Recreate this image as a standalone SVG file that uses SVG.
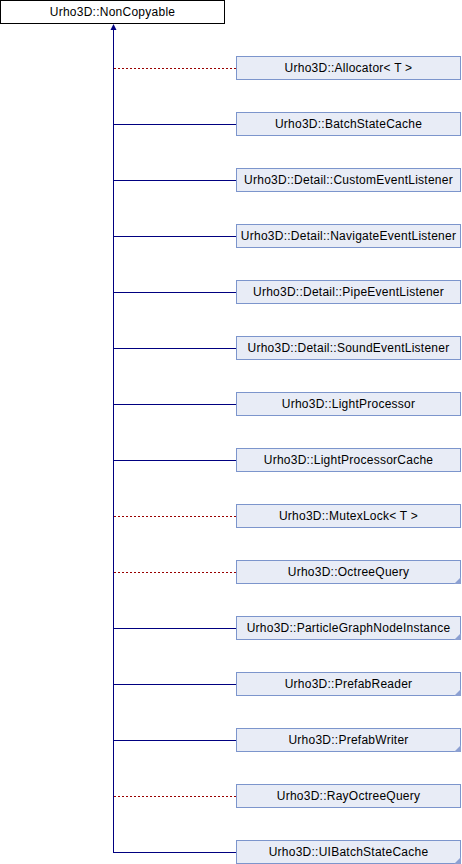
<svg xmlns="http://www.w3.org/2000/svg" width="462" height="864" viewBox="0 0 462 864">
<style>
.n rect{fill:#e8ecf6;stroke:#7c95cc;stroke-width:1}
.n text,.r text{font-family:"Liberation Sans",Arial,sans-serif;font-size:12px;letter-spacing:0.25px;fill:#000;text-anchor:middle}
.r rect{fill:#fff;stroke:#000;stroke-width:1}
.t{fill:#8ca0d2}
.pub{stroke:#000080;stroke-width:1;fill:none}
.prv{stroke:#990000;stroke-width:1;fill:none;stroke-dasharray:2,2}
</style>
<rect width="462" height="864" fill="#fff"/>
<g id="edges">
<line class="pub" x1="113.5" y1="29" x2="113.5" y2="852.5"/>
<polygon points="113.5,24 110.5,30 116.5,30" fill="#000080"/>
<line class="prv" x1="114" y1="68.5" x2="236" y2="68.5"/>
<line class="pub" x1="114" y1="124.5" x2="236" y2="124.5"/>
<line class="pub" x1="114" y1="180.5" x2="236" y2="180.5"/>
<line class="pub" x1="114" y1="236.5" x2="236" y2="236.5"/>
<line class="pub" x1="114" y1="292.5" x2="236" y2="292.5"/>
<line class="pub" x1="114" y1="348.5" x2="236" y2="348.5"/>
<line class="pub" x1="114" y1="404.5" x2="236" y2="404.5"/>
<line class="pub" x1="114" y1="460.5" x2="236" y2="460.5"/>
<line class="prv" x1="114" y1="516.5" x2="236" y2="516.5"/>
<line class="prv" x1="114" y1="572.5" x2="236" y2="572.5"/>
<line class="pub" x1="114" y1="628.5" x2="236" y2="628.5"/>
<line class="pub" x1="114" y1="684.5" x2="236" y2="684.5"/>
<line class="pub" x1="114" y1="740.5" x2="236" y2="740.5"/>
<line class="prv" x1="114" y1="796.5" x2="236" y2="796.5"/>
<line class="pub" x1="113" y1="852.5" x2="236" y2="852.5"/>
</g>
<g id="root" class="r"><rect x="0.5" y="0.5" width="224" height="23"/><text x="112.5" y="16">Urho3D::NonCopyable</text></g>
<g id="n1" class="n"><rect x="236.5" y="56.5" width="224" height="23"/><text x="348.5" y="71.5">Urho3D::Allocator&lt; T &gt;</text></g>
<g id="n2" class="n"><rect x="236.5" y="112.5" width="224" height="23"/><text x="348.5" y="127.5">Urho3D::BatchStateCache</text></g>
<g id="n3" class="n"><rect x="236.5" y="168.5" width="224" height="23"/><text x="348.5" y="183.5">Urho3D::Detail::CustomEventListener</text></g>
<g id="n4" class="n"><rect x="236.5" y="224.5" width="224" height="23"/><text x="348.5" y="239.5">Urho3D::Detail::NavigateEventListener</text></g>
<g id="n5" class="n"><rect x="236.5" y="280.5" width="224" height="23"/><text x="348.5" y="295.5">Urho3D::Detail::PipeEventListener</text></g>
<g id="n6" class="n"><rect x="236.5" y="336.5" width="224" height="23"/><text x="348.5" y="351.5">Urho3D::Detail::SoundEventListener</text></g>
<g id="n7" class="n"><rect x="236.5" y="392.5" width="224" height="23"/><text x="348.5" y="407.5">Urho3D::LightProcessor</text></g>
<g id="n8" class="n"><rect x="236.5" y="448.5" width="224" height="23"/><text x="348.5" y="463.5">Urho3D::LightProcessorCache</text></g>
<g id="n9" class="n"><rect x="236.5" y="504.5" width="224" height="23"/><text x="348.5" y="519.5">Urho3D::MutexLock&lt; T &gt;</text></g>
<g id="n10" class="n"><rect x="236.5" y="560.5" width="224" height="23"/><text x="348.5" y="575.5">Urho3D::OctreeQuery</text><polygon class="t" points="461,577 461,584 454,584"/></g>
<g id="n11" class="n"><rect x="236.5" y="616.5" width="224" height="23"/><text x="348.5" y="631.5">Urho3D::ParticleGraphNodeInstance</text><polygon class="t" points="461,633 461,640 454,640"/></g>
<g id="n12" class="n"><rect x="236.5" y="672.5" width="224" height="23"/><text x="348.5" y="687.5">Urho3D::PrefabReader</text><polygon class="t" points="461,689 461,696 454,696"/></g>
<g id="n13" class="n"><rect x="236.5" y="728.5" width="224" height="23"/><text x="348.5" y="743.5">Urho3D::PrefabWriter</text><polygon class="t" points="461,745 461,752 454,752"/></g>
<g id="n14" class="n"><rect x="236.5" y="784.5" width="224" height="23"/><text x="348.5" y="799.5">Urho3D::RayOctreeQuery</text></g>
<g id="n15" class="n"><rect x="236.5" y="840.5" width="224" height="23"/><text x="348.5" y="855.5">Urho3D::UIBatchStateCache</text><polygon class="t" points="461,857 461,864 454,864"/></g>
</svg>
